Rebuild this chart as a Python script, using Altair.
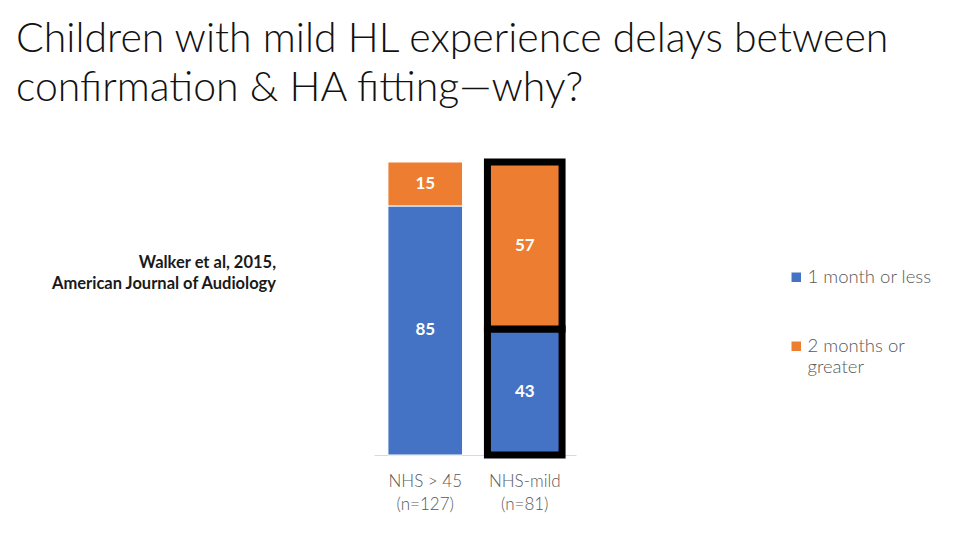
import altair as alt
import pandas as pd

# ---- data ----
groups = ["NHS > 45", "NHS-mild"]
group_n = ["(n=127)", "(n=81)"]
series = ["1 month or less", "2 months or greater"]
values_short = [85, 43]   # 1 month or less
values_long = [15, 57]    # 2 months or greater
colors = ["#4472C4", "#ED7D31"]

title_lines = ["Children with mild HL experience delays between",
               "confirmation & HA fitting\u2014why?"]
note_lines = ["Walker et al, 2015,", "American Journal of Audiology"]

rows = []
for i, g in enumerate(groups):
    lab = g + "|" + group_n[i]
    rows.append({"label": lab, "series": series[0], "idx": 0, "value": values_short[i]})
    rows.append({"label": lab, "series": series[1], "idx": 1, "value": values_long[i]})
df = pd.DataFrame(rows)
labels = [g + "|" + n for g, n in zip(groups, group_n)]

W, H = 202, 293
base = alt.Chart(df).transform_stack(
    stack="value", groupby=["label"], sort=[alt.SortField("idx", "ascending")],
    as_=["y0", "y1"]
).transform_calculate(mid="(datum.y0 + datum.y1) / 2")

xenc = alt.X("label:N", sort=labels,
             scale=alt.Scale(paddingInner=0.25, paddingOuter=0.14),
             axis=alt.Axis(title=None, labelAngle=0, ticks=False,
                           domainColor="#d9d9d9", domainWidth=1.2,
                           labelExpr="split(datum.label, '|')",
                           labelFont="Lato", labelFontWeight=300, labelFontSize=17,
                           labelColor="#595959", labelPadding=18, labelLineHeight=23))
yscale = alt.Scale(domain=[0, 100], nice=False)

is_mild = "indexof(datum.label, 'NHS-mild') == 0"

bars = base.mark_bar().encode(
    x=xenc,
    y=alt.Y("y0:Q", scale=yscale, axis=None),
    y2="y1:Q",
    color=alt.Color("series:N", scale=alt.Scale(domain=series, range=colors),
                    legend=alt.Legend(title=None, orient="none", legendX=413, legendY=106,
                                      symbolType="square", symbolSize=90, symbolStrokeWidth=0,
                                      labelFont="Lato", labelFontWeight=300, labelFontSize=18.5,
                                      labelColor="#595959", rowPadding=50, labelLimit=300,
                                      labelExpr="datum.label == '2 months or greater' ? ['2 months or', 'greater'] : datum.label",
                                      labelBaseline="middle", labelOffset=2)),
    stroke=alt.condition(is_mild, alt.value("black"), alt.value("white")),
    strokeWidth=alt.condition(is_mild, alt.value(7), alt.value(1)),
)

txt = base.mark_text(color="white", font="Lato", fontWeight="bold", fontSize=17,
                     baseline="middle").encode(
    x=alt.X("label:N", sort=labels),
    y=alt.Y("mid:Q", scale=yscale),
    text="value:Q",
)

title = alt.Chart(pd.DataFrame({"k": [0]})).mark_text(
    text=title_lines, align="left", baseline="alphabetic", font="Lato", fontWeight=300,
    fontSize=41, lineHeight=49, color="#111111"
).encode(x=alt.value(-358), y=alt.value(-110))

note = alt.Chart(pd.DataFrame({"k": [0]})).mark_text(
    text=note_lines, align="right", baseline="alphabetic", font="Lato", fontWeight="bold",
    fontSize=16.5, lineHeight=21, color="#1a1a1a"
).encode(x=alt.value(-98), y=alt.value(106))

chart = alt.layer(bars, txt, title, note).properties(
    width=W, height=H,
    autosize=alt.AutoSizeParams(type="none"),
    padding={"left": 366, "top": 154, "right": 376, "bottom": 77},
).configure(background="white").configure_view(strokeWidth=0, stroke=None)

chart.save("out.html", embed_options={"renderer": "svg", "actions": False})
